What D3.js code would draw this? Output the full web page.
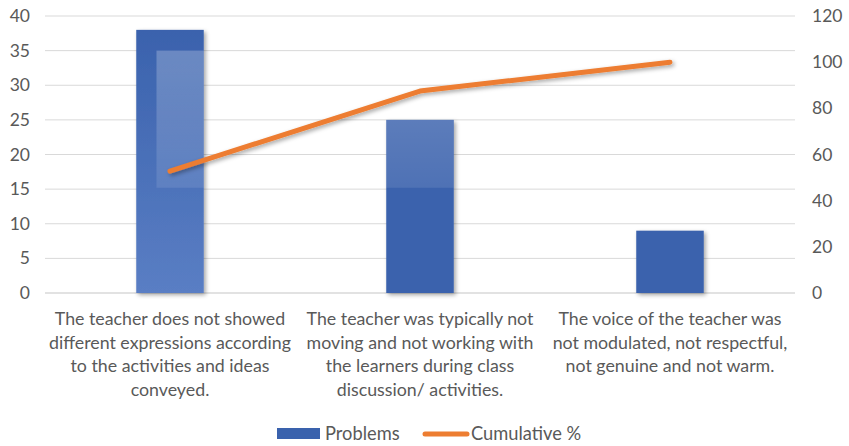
<!DOCTYPE html>
<html>
<head>
<meta charset="utf-8">
<script src="https://cdn.jsdelivr.net/npm/d3@7"></script>
<style>
  html, body { margin: 0; padding: 0; background: #fff; }
  svg { display: block; font-family: Lato, "Open Sans", sans-serif; }
</style>
</head>
<body>
<svg id="chart" width="849" height="446"></svg>
<script>
// Pareto data: problem counts and cumulative percentage
const categories = [
  ["The teacher does not showed", "different expressions according", "to the activities and ideas", "conveyed."],
  ["The teacher was typically not", "moving and not working with", "the learners during class", "discussion/ activities."],
  ["The voice of the teacher was", "not modulated, not respectful,", "not genuine and not warm."]
];
const problems = [38, 25, 9];
const cumulative = [52.8, 87.5, 100];
const leftTicks = [0, 5, 10, 15, 20, 25, 30, 35, 40];
const rightTicks = [0, 20, 40, 60, 80, 100, 120];
const seriesNames = ["Problems", "Cumulative %"];

const svg = d3.select("#chart");
const plot = { left: 45, right: 795, top: 16, bottom: 293 };
const BLUE = "#3a62ad", ORANGE = "#ed7d31", TEXT = "#595959", GRID = "#d9d9d9";

const idx = categories.map((_, i) => i);
const x = d3.scaleBand().domain(idx).range([plot.left, plot.right]).paddingInner(0.73).paddingOuter(0.365);
const y = d3.scaleLinear().domain([0, 40]).range([plot.bottom, plot.top]);
const y2 = d3.scaleLinear().domain([0, 120]).range([plot.bottom, plot.top]);
const cx = i => x(i) + x.bandwidth() / 2;

const defs = svg.append("defs");
const shadow = defs.append("filter").attr("id", "shadow")
  .attr("x", "-20%").attr("y", "-20%").attr("width", "150%").attr("height", "150%");
shadow.append("feDropShadow").attr("dx", 2).attr("dy", 2).attr("stdDeviation", 2)
  .attr("flood-color", "#000").attr("flood-opacity", 0.35);

const g1 = defs.append("linearGradient").attr("id", "bar0").attr("x1", 0).attr("y1", 0).attr("x2", 0).attr("y2", 1);
g1.append("stop").attr("offset", "0%").attr("stop-color", "#3a62ad");
g1.append("stop").attr("offset", "100%").attr("stop-color", "#5a7ec4");

const gh = defs.append("linearGradient").attr("id", "sheen").attr("x1", 0).attr("y1", 0).attr("x2", 0).attr("y2", 1);
gh.append("stop").attr("offset", "0%").attr("stop-color", "#fff").attr("stop-opacity", 0.24);
gh.append("stop").attr("offset", "100%").attr("stop-color", "#fff").attr("stop-opacity", 0.1);

// gridlines
svg.append("g").selectAll("line").data(leftTicks).join("line")
  .attr("x1", plot.left).attr("x2", plot.right)
  .attr("y1", d => y(d)).attr("y2", d => y(d))
  .attr("stroke", GRID).attr("stroke-width", d => d === 0 ? 1.6 : 1);

// left axis
const ax = d3.axisLeft(y).tickValues(leftTicks).tickSize(0).tickPadding(15);
svg.append("g").attr("transform", `translate(${plot.left},0)`).call(ax)
  .call(g => g.select(".domain").remove())
  .selectAll("text").attr("fill", TEXT).attr("font-size", 17.5).attr("font-family", "Lato, sans-serif");

// right axis
const ax2 = d3.axisRight(y2).tickValues(rightTicks).tickSize(0).tickPadding(17);
svg.append("g").attr("transform", `translate(${plot.right},0)`).call(ax2)
  .call(g => g.select(".domain").remove())
  .selectAll("text").attr("fill", TEXT).attr("font-size", 17.5).attr("font-family", "Lato, sans-serif");

// bars
const clip = defs.append("clipPath").attr("id", "barclip");
clip.selectAll("rect").data(problems).join("rect")
  .attr("x", (d, i) => x(i)).attr("y", d => y(d))
  .attr("width", x.bandwidth()).attr("height", d => y(0) - y(d));

svg.append("g").attr("filter", "url(#shadow)").selectAll("rect").data(problems).join("rect")
  .attr("x", (d, i) => x(i)).attr("y", d => y(d))
  .attr("width", x.bandwidth()).attr("height", d => y(0) - y(d))
  .attr("fill", (d, i) => i === 0 ? "url(#bar0)" : BLUE);

// light sheen panel across the upper part of the first two bars
svg.append("rect").attr("clip-path", "url(#barclip)")
  .attr("x", x(0) + x.bandwidth() * 0.3).attr("y", y(35))
  .attr("width", x(1) + x.bandwidth() - x(0) - x.bandwidth() * 0.3)
  .attr("height", y(15.2) - y(35))
  .attr("fill", "url(#sheen)");

// cumulative line
const line = d3.line().x((d, i) => cx(i)).y(d => y2(d));
svg.append("path").datum(cumulative).attr("d", line)
  .attr("fill", "none").attr("stroke", ORANGE).attr("stroke-width", 5)
  .attr("stroke-linecap", "round").attr("stroke-linejoin", "round")
  .attr("filter", "url(#shadow)");

// category labels
const lab = svg.append("g").attr("fill", TEXT).attr("font-size", 17.8).attr("text-anchor", "middle");
categories.forEach((lines, i) => {
  const t = lab.append("text").attr("x", cx(i)).attr("y", 325);
  lines.forEach((s, k) => t.append("tspan").attr("x", cx(i)).attr("dy", k === 0 ? 0 : 23.5).text(s));
});

// legend
const lg = svg.append("g").attr("font-size", 18.3).attr("fill", TEXT);
lg.append("rect").attr("x", 277).attr("y", 428).attr("width", 43).attr("height", 11).attr("fill", BLUE);
lg.append("text").attr("x", 325).attr("y", 440).text(seriesNames[0]);
lg.append("line").attr("x1", 425).attr("x2", 467).attr("y1", 434).attr("y2", 434)
  .attr("stroke", ORANGE).attr("stroke-width", 5).attr("stroke-linecap", "round");
lg.append("text").attr("x", 471).attr("y", 440).text(seriesNames[1]);
</script>
</body>
</html>
